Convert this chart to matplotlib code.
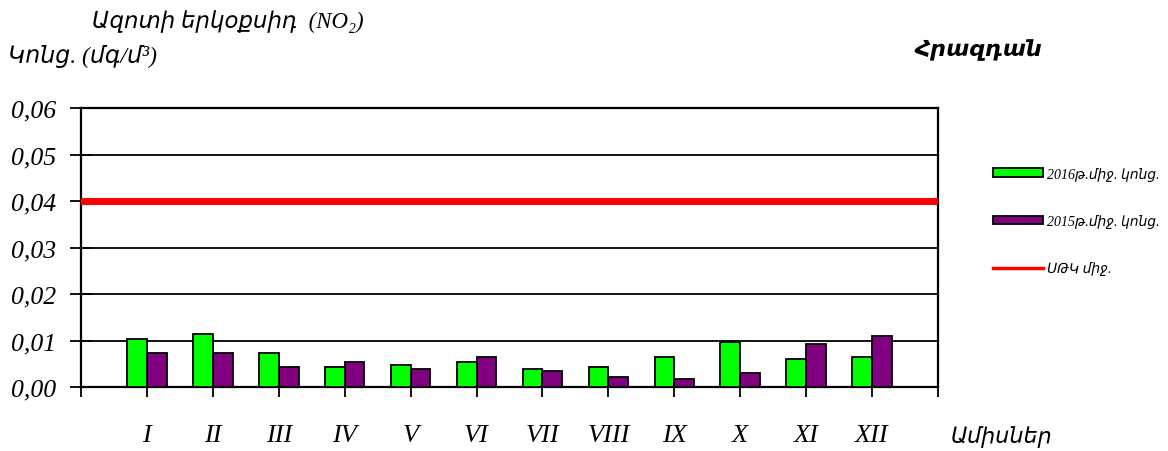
import matplotlib
matplotlib.use("Agg")
import matplotlib.pyplot as plt
import numpy as np
from matplotlib.ticker import FixedLocator, FuncFormatter
from matplotlib.patches import Patch
from matplotlib.lines import Line2D

months = ["I", "II", "III", "IV", "V", "VI", "VII", "VIII", "IX", "X", "XI", "XII"]
conc_2016 = [0.0104, 0.0114, 0.0074, 0.0043, 0.0048, 0.0053, 0.0039, 0.0044, 0.0065, 0.0096, 0.0061, 0.0065]
conc_2015 = [0.0074, 0.0074, 0.0044, 0.0053, 0.0039, 0.0065, 0.0035, 0.0022, 0.0018, 0.0031, 0.0092, 0.0109]
limit = 0.04

serif = ["Liberation Serif", "DejaVu Sans"]

fig = plt.figure(figsize=(11.68, 4.52), dpi=100)
ax = fig.add_axes([81/1168, 1-388/452, (938-81)/1168, (388-109)/452])

x = np.arange(1, len(months)+1)
w = 0.3
ax.bar(x - w/2, conc_2016, w, color="#00ff00", edgecolor="black", linewidth=1.3, zorder=3)
ax.bar(x + w/2, conc_2015, w, color="#800080", edgecolor="black", linewidth=1.3, zorder=3)
ax.axhline(limit, color="#ff0000", lw=5, zorder=4)

ax.set_xlim(0, 13)
ax.set_ylim(0, 0.06)
ax.set_yticks(np.arange(0, 0.061, 0.01))
ax.yaxis.set_major_formatter(FuncFormatter(lambda v, p: f"{v:.2f}".replace(".", ",")))
ax.yaxis.grid(True, color="black", lw=1.3, zorder=1)
ax.xaxis.set_major_locator(FixedLocator(np.arange(0, 14)))
ax.set_xticklabels([""] + months + [""])
ax.tick_params(axis="y", direction="inout", length=16, width=1.3, pad=10)
ax.tick_params(axis="x", direction="out", length=7, width=1.3, pad=20)
for lab in ax.get_yticklabels():
    lab.set_family(serif); lab.set_style("italic"); lab.set_fontsize(18.5)
for lab in ax.get_xticklabels():
    lab.set_family(serif); lab.set_style("italic"); lab.set_fontsize(19)
for s in ax.spines.values():
    s.set_linewidth(1.6)

fig.text(92/1168, 1-22/452, "Ազոտի երկօքսիդ  (NO₂)", family=serif, style="italic",
         fontsize=16.5, va="center", ha="left")
fig.text(8/1168, 1-57/452, "Կոնց. (մգ/մ³)", family=serif, style="italic",
         fontsize=17, va="center", ha="left")
fig.text(915/1168, 1-50/452, "Հրազդան", family=serif, style="italic", weight="bold",
         fontsize=16, va="center", ha="left")
fig.text(950/1168, 1-437/452, "Ամիսներ", family=serif, style="italic",
         fontsize=16, va="center", ha="left")

handles = [Patch(facecolor="#00ff00", edgecolor="black", lw=1.3),
           Patch(facecolor="#800080", edgecolor="black", lw=1.3),
           Line2D([], [], color="#ff0000", lw=2.5)]
labels = ["2016թ.միջ. կոնց.", "2015թ.միջ. կոնց.", "ՍԹԿ միջ."]
fig.legend(handles, labels, loc="upper left", bbox_to_anchor=(980/1168, 1-155/452),
           frameon=False, prop={"family": serif, "style": "italic", "size": 10},
           handlelength=3.6, handleheight=0.6, labelspacing=2.4, handletextpad=0.3)

fig.savefig("out.png", dpi=100)
